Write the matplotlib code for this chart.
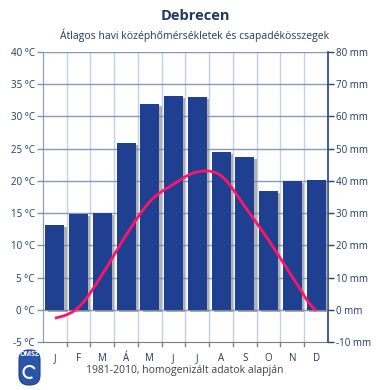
import numpy as np
import matplotlib
matplotlib.use("Agg")
import matplotlib.pyplot as plt
import matplotlib.patheffects as pe
from matplotlib.patches import FancyBboxPatch, Arc

months = ["J", "F", "M", "Á", "M", "J", "J", "A", "S", "O", "N", "D"]
precip_mm = [26.3, 29.7, 30.0, 51.8, 64.0, 66.4, 66.1, 49.0, 47.4, 36.9, 40.0, 40.3]
temp_c = [-1.3, 0.4, 5.5, 11.6, 16.8, 19.5, 21.4, 20.8, 16.0, 10.8, 5.1, -0.1]
temp_ticks = [-5, 0, 5, 10, 15, 20, 25, 30, 35, 40]
precip_ticks = [-10, 0, 10, 20, 30, 40, 50, 60, 70, 80]

NAVY = "#1f3864"
BAR = "#1f3f91"
PINK = "#ff1467"

plt.rcParams['font.family'] = ['Open Sans', 'DejaVu Sans']

fig = plt.figure(figsize=(3.9, 3.9), dpi=100)
ax = fig.add_axes([43/390, 48/390, 285/390, 290/390])
ax2 = ax.twinx()

x = np.arange(len(months))

# precipitation bars on the right axis (drawn on ax2, which sits on top)
ax2.bar(x, precip_mm, width=0.8, color=BAR, zorder=3,
        path_effects=[pe.SimplePatchShadow(offset=(1.6, -1.6), shadow_rgbFace="#7f7f7f", alpha=0.6), pe.Normal()])
ax2.set_ylim(-10, 80)
ax2.set_yticks(precip_ticks)
ax2.set_yticklabels([f"{t} mm" for t in precip_ticks])

# smoothed temperature line (Catmull-Rom through the monthly means)
def smooth(xs, ys, n=20):
    xs = np.asarray(xs, float)
    ys = np.asarray(ys, float)
    px = np.concatenate([[2*xs[0]-xs[1]], xs, [2*xs[-1]-xs[-2]]])
    py = np.concatenate([[ys[0]], ys, [ys[-1]]])
    outx, outy = [], []
    t = np.linspace(0, 1, n)
    for i in range(1, len(px) - 2):
        for p, out in ((px, outx), (py, outy)):
            p0, p1, p2, p3 = p[i-1], p[i], p[i+1], p[i+2]
            out.extend(0.5*((2*p1) + (-p0+p2)*t + (2*p0-5*p1+4*p2-p3)*t**2 + (-p0+3*p1-3*p2+p3)*t**3))
    return np.array(outx), np.array(outy)

sx, sy = smooth(x, temp_c)
# temperature axis: 1 °C = 2 mm
ax2.plot(sx, sy*2, color=PINK, lw=2.0, solid_capstyle="butt", zorder=5)

ax.set_ylim(-5, 40)
ax.set_yticks(temp_ticks)
ax.set_yticklabels([f"{t} °C" for t in temp_ticks])
ax.set_xlim(-0.5, 11.5)
ax.set_xticks(x)
ax.set_xticklabels(months)
ax.tick_params(axis="x", length=0, pad=8, labelsize=7, colors=NAVY)
ax.tick_params(axis="y", length=4, width=1, color="#7f8fb8", labelsize=7, labelcolor=NAVY, pad=2)
ax2.tick_params(axis="y", length=4, width=1, color=BAR, labelsize=7, labelcolor=NAVY, pad=2)

# grid
for t in temp_ticks[1:]:
    ax.axhline(t, color="#8797bf", lw=1, zorder=1)
for b in np.arange(0.5, 11.5, 1):
    ax.axvline(b, color="#c3d0ea", lw=1, zorder=0)
    ax.plot([b, b], [-5, -5.6], color="#7f7f7f", lw=1, clip_on=False)

ax.spines["top"].set_visible(False)
ax2.spines["top"].set_visible(False)
ax.spines["left"].set_color("#8797bf")
ax.spines["bottom"].set_color("#7f7f7f")
ax2.spines["left"].set_visible(False)
ax2.spines["bottom"].set_visible(False)
ax2.spines["right"].set_color(BAR)
ax2.spines["right"].set_linewidth(1.2)
ax.spines["right"].set_visible(False)

fig.text(0.5, 1 - 16/390, "Debrecen", ha="center", va="center", fontsize=10.5, fontweight="bold", color=NAVY)
fig.text(0.5, 1 - 35/390, "Átlagos havi középhőmérsékletek és csapadékösszegek", ha="center", va="center",
         fontsize=7.5, color=NAVY)
fig.text(185/390, 1 - 371/390, "1981-2010, homogenizált adatok alapján", ha="center", va="center",
         fontsize=7.5, color="#404040")

# OMSZ logo
logo = FancyBboxPatch((19/390, 1 - 385/390), 21/390, 35/390, boxstyle="round,pad=0,rounding_size=0.025",
                      transform=fig.transFigure, facecolor="#2a55a8", edgecolor="#1f3f91", lw=0.8)
fig.patches.append(logo)
fig.patches.append(Arc((29.5/390, 1 - 372/390), 12/390, 12/390, theta1=30, theta2=300,
                       transform=fig.transFigure, color="white", lw=1.5))
fig.text(29.5/390, 1 - 355/390, "OMSZ", ha="center", va="center", fontsize=5, fontweight="bold", color="white")

fig.savefig("out.png", dpi=100)
